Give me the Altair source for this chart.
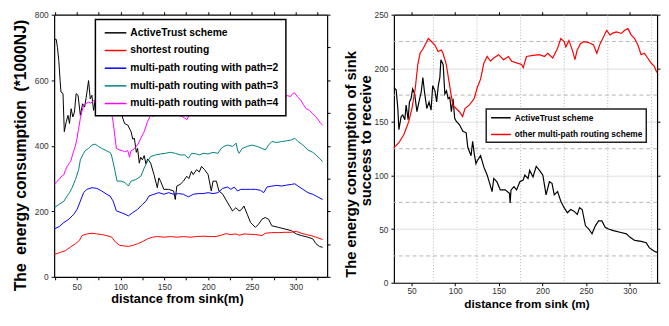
import altair as alt
import pandas as pd

# ---------------- Left panel data (energy consumption, *1000NJ) ----------------
LEFT_NAMES = ["ActiveTrust scheme", "shortest routing", "multi-path routing with path=2",
              "multi-path routing with path=3", "multi-path routing with path=4"]
LEFT_COLORS = ["#000000", "#ff0000", "#0000ff", "#008080", "#ff00ff"]

lbk_x = [25, 26.5, 28, 29.5, 31, 32, 34.3, 35.8, 38, 40, 41.7, 43.6, 45.5, 47.4, 49.3, 51.5, 54.1, 56.7, 59, 60.8,
         63.5, 65.4, 67.3, 69.2, 71, 73.2, 76, 80, 85, 90, 94, 97, 100.8, 104.6, 108.3, 112, 114, 115.8, 118, 119.5,
         121.4, 123, 125, 127, 129, 131, 134.4, 138.2, 142, 143.8, 145.7, 149.4, 155, 160.6, 162.5, 164.3, 168, 171.8, 175.6, 178,
         181, 183, 186.8, 190, 192.4, 196, 200, 203.6, 205.6, 209.4, 212.4, 216.7, 222.3, 227.9, 231.7, 235.4, 238, 240.9, 244.7, 248.4,
         254, 257.7, 261.5, 265.2, 269, 272.7, 280.2, 287.7, 295.1, 300.8, 306.4, 313.9, 319.5, 323.2, 327, 330.7]
lbk_y = [725, 725, 700, 660, 600, 564, 559, 443, 473, 493, 468, 513, 488, 503, 559, 554, 493, 528, 518, 548,
         599, 543, 554, 508, 538, 503, 530, 550, 540, 560, 540, 513, 498, 468, 463, 443, 420, 423, 380, 392,
         347, 365, 357, 370, 345, 360, 347, 312, 272, 302, 292, 267, 267, 262, 236, 277, 282, 292, 307, 300,
         322, 312, 327, 320, 337, 327, 312, 262, 292, 292, 262, 252, 226, 201, 211, 201, 205, 216, 191, 166,
         151, 161, 176, 181, 176, 156, 151, 146, 141, 131, 126, 121, 116, 101, 93, 90]

lrd_x = [24.2, 31.6, 37.2, 42.8, 48.5, 53, 56, 61.6, 67.3, 72.9, 78.5, 84.2, 89.8, 94.3, 99.2, 104.8, 109.3, 114.1, 119.7, 125.3,
         130.9, 136.5, 142.1, 149.5, 157, 164.5, 171.9, 179.4, 186.9, 194.3, 201.8, 209.3, 214.9, 220.5, 226.1, 231.7, 235.4, 241, 246.6, 254.1,
         261.5, 265.3, 272.7, 280.2, 287.7, 295.1, 300.7, 306.4, 312, 317.6, 323.2, 330.7]
lrd_y = [68, 75, 80, 91, 101, 111, 126, 131, 133, 131, 129, 126, 121, 106, 96, 94, 93, 96, 101, 108,
         116, 121, 123, 121, 123, 121, 123, 121, 123, 124, 123, 123, 127, 132, 129, 131, 127, 131, 130, 129,
         126, 133, 135, 135, 136, 136, 139, 133, 129, 126, 121, 114]

lbl_x = [24.2, 29.8, 35.4, 41, 46.6, 50.4, 54.1, 57.8, 61.6, 67.3, 72.9, 78.5, 84.2, 87.9, 91.6, 95.3, 100.8, 105.3, 109, 113.9,
         119.5, 125, 129, 132.6, 138.2, 143.8, 149.4, 155, 160.6, 166.2, 171.8, 177.5, 183, 188.7, 194.3, 200, 205.6, 211.2, 216.7, 222.3,
         226, 229.8, 233.6, 237.3, 242.9, 248.5, 254.1, 259.7, 263.5, 267.2, 272.8, 278.4, 284, 289.6, 295.2, 299, 302.7, 308.3, 314, 319.5,
         325.1, 330.7]
lbl_y = [146, 153, 166, 176, 191, 206, 231, 257, 267, 272, 270, 262, 252, 247, 231, 201, 196, 191, 186, 196,
         206, 221, 231, 247, 252, 257, 252, 257, 252, 254, 252, 244, 252, 254, 254, 257, 254, 257, 270, 274,
         267, 274, 262, 267, 267, 267, 267, 264, 257, 274, 277, 279, 277, 280, 282, 284, 277, 267, 257, 252,
         244, 236]

ltl_x = [24.5, 29.8, 35.4, 39.1, 42, 44.7, 48.5, 52.2, 54.1, 57.8, 59.7, 63.5, 67.3, 71, 74.8, 78.5, 82.3, 86, 88, 89.6,
         91.5, 93.4, 96, 100.8, 105.3, 109, 112, 117.6, 123.2, 127, 130.7, 134.4, 140, 145.7, 151.3, 156.9, 162.5, 168, 173.7, 177.5,
         181.2, 186.8, 190, 194.3, 200, 205.6, 211.2, 215, 218, 222, 228, 232, 233.6, 235.4, 239, 244.7, 250.4, 256, 261.5, 265.2,
         269, 272.7, 278.3, 284, 289.6, 295.2, 299, 302.7, 308.3, 314, 319.5, 323.2, 327, 330.7]
ltl_y = [211, 221, 231, 247, 258, 272, 297, 327, 357, 377, 385, 392, 402, 405, 398, 392, 387, 382, 380, 372,
         350, 327, 292, 292, 287, 277, 292, 297, 307, 332, 352, 367, 372, 375, 377, 380, 377, 372, 372, 362,
         377, 375, 372, 377, 375, 380, 377, 392, 398, 402, 398, 408, 387, 377, 392, 398, 402, 398, 392, 387,
         402, 413, 410, 413, 415, 418, 423, 413, 402, 387, 380, 372, 362, 352]

lmg_x = [24.5, 27, 29.8, 32, 35.4, 37, 39.1, 41, 43, 45, 46.6, 48.5, 50.4, 52, 54.1, 56, 57.8, 60, 63.5, 66,
         69.2, 72, 76, 80, 84, 88, 90, 91.5, 93.5, 95.2, 99, 102, 104.6, 108.3, 110.2, 112, 114, 117.6, 120, 123.2,
         127, 130.7, 134.4, 137, 140, 143, 145.7, 148, 151, 155, 158, 160.6, 163, 166, 170, 173, 176, 179, 182, 184.8,
         187, 190.5, 193, 196, 199, 201.7, 204, 207, 211, 214.8, 220, 225, 230, 232, 235, 240, 245, 250, 255, 259,
         263, 267, 272, 276, 280, 285.4, 291, 294, 296.6, 298.5, 302, 306, 309, 312, 315.7, 319.5, 323.2, 326, 328.8, 330.7]
lmg_y = [282, 290, 297, 305, 312, 325, 337, 345, 352, 370, 385, 400, 423, 450, 483, 505, 523, 528, 533, 530,
         538, 540, 530, 515, 510, 505, 495, 473, 430, 392, 387, 385, 382, 385, 365, 385, 387, 397, 405, 423,
         443, 473, 493, 490, 493, 495, 498, 495, 503, 508, 500, 498, 500, 493, 490, 485, 480, 498, 495, 498,
         495, 503, 500, 498, 505, 500, 505, 498, 508, 523, 530, 528, 520, 503, 505, 525, 530, 525, 530, 510,
         505, 530, 535, 540, 543, 548, 553, 550, 559, 562, 550, 538, 525, 513, 508, 498, 488, 478, 468, 463]

# ---------------- Right panel data ----------------
RIGHT_NAMES = ["ActiveTrust scheme", "other multi-path routing scheme"]
RIGHT_COLORS = ["#000000", "#ff0000"]

rbk_x = [29.7, 32.3, 34.2, 35.4, 38, 39.9, 42.2, 43.7, 46, 47.5, 49.3, 51.2, 53.5, 56.1, 58.8, 61, 62.9, 64.8, 67.4, 70,
         72.3, 74.2, 76.8, 78.7, 80.6, 82.4, 83.6, 86.2, 88.1, 90, 91.9, 93.8, 95.6, 97.5, 99.4, 101.3, 105, 108.8, 112.6, 114.4,
         118.2, 120, 121.9, 123.8, 125.4, 129.1, 132.9, 136.7, 142.3, 144.2, 147.9, 151.7, 157.3, 162.2, 163, 164, 167.4, 170.4, 174.1, 177.9,
         179.8, 183.5, 185.4, 189.2, 192.9, 196.7, 200.5, 204.2, 208, 211, 213.6, 217.4, 221.1, 224.9, 228.7, 232.4, 236.2, 240, 242.6, 245.6,
         249.4, 253.2, 256.9, 260.7, 264.4, 268.2, 272, 275.7, 281.4, 288.9, 296.4, 300.2, 305.8, 313.3, 319, 322.7, 328.4, 331.4]
rbk_y = [182, 180, 162.5, 142.8, 155, 156.5, 152, 165.6, 152, 168.6, 171.6, 180.7, 176, 159.5, 170, 177.7, 191.4, 177.7, 162.5, 168.6,
         161, 183.8, 179, 168.6, 183.8, 191.4, 208, 203.5, 176, 179, 171.6, 173, 159.5, 171.6, 153.4, 150.4, 147.3, 141.3, 139.8, 126.3,
         118.5, 132, 120, 111, 114, 118.5, 107.8, 100.3, 85, 97.2, 94, 86.6, 86.6, 83.5, 74.4, 86.6, 89.6, 86.6, 94.2, 95.7,
         100.3, 97.2, 104.8, 98.7, 108.5, 104.8, 100.3, 82, 94.2, 92.7, 82, 85, 76, 70, 65.3, 68.3, 66.8, 63.8, 70, 68.3,
         53.1, 50.1, 45.6, 53.1, 57.7, 57.7, 51.7, 50.1, 48.6, 47.1, 45.6, 42.6, 39.5, 38.6, 37.4, 32.5, 29.4, 28.3]

rrd_x = [29.7, 35.4, 41, 46.6, 50.4, 54.1, 57.1, 59.7, 63.5, 67.2, 69.1, 72.9, 76.7, 80.4, 84.2, 86, 89.8, 93.6, 97.3, 101,
         104.8, 108.5, 111.2, 116, 121.7, 125.4, 129.1, 132.9, 136.7, 140.4, 144.2, 149.8, 155.4, 161, 164.8, 170.4, 176.1, 178, 181.7, 189.2,
         196.7, 202.4, 206.1, 211.8, 217.4, 221.1, 224.9, 226.8, 230.5, 234.3, 237.3, 239.9, 243.7, 247.4, 253, 258.6, 262.4, 266.2, 269.9, 273.7,
         277.5, 281.2, 285, 290.6, 294.4, 298.1, 301.9, 305.6, 309.4, 313.2, 316.9, 320.7, 324.5, 328.2, 331.2]
rrd_y = [126, 130.6, 138, 150, 162.5, 180.7, 203.5, 214, 218.7, 224.8, 227.8, 225, 221.7, 215.7, 217, 214, 203.5, 183.8, 165.6, 162.5,
         159.5, 155, 162.5, 165.6, 171.6, 182.3, 189.9, 205, 211, 206.6, 209.6, 212.7, 208, 211, 206.6, 205, 203.5, 200.5, 211, 212,
         212.7, 211, 214, 209.6, 218.7, 227.8, 224.8, 220, 226, 217, 208, 217, 223, 224.8, 224, 221.7, 214, 223, 229, 235.4,
         231, 233, 234, 232.5, 235.4, 237, 231, 228, 222, 212.7, 214, 209.6, 205, 202, 196]

# ---------------- Ticks, grid, titles ----------------
L_XTICKS = [25, 50, 75, 100, 125, 150, 175, 200, 225, 250, 275, 300, 325]
L_YTICKS = [0, 200, 400, 600, 800]
L_YTICKS_R = [0, 100, 200, 300, 400, 500, 600, 700, 800]
R_XTICKS = [50, 100, 150, 200, 250, 300]
R_YTICKS = [0, 50, 100, 150, 200, 250]
R_GRID_X = [75, 125, 175, 225, 275, 325]
R_GRID_Y = [25, 75, 125, 175, 225]

L_XTITLE = "distance from sink(m)"
L_YTITLE = "The\u00a0 energy consumption\u00a0 (*1000NJ)"
R_XTITLE = "distance from sink (m)"
R_YTITLE1 = "The energy consumption of sink"
R_YTITLE2 = "success to receive"

FONT = "Liberation Sans, Arial, sans-serif"


def frame(xs, ys, name):
    return pd.DataFrame({"x": xs, "y": ys, "s": name})


left_df = pd.concat([frame(lbk_x, lbk_y, LEFT_NAMES[0]), frame(lrd_x, lrd_y, LEFT_NAMES[1]),
                     frame(lbl_x, lbl_y, LEFT_NAMES[2]), frame(ltl_x, ltl_y, LEFT_NAMES[3]),
                     frame(lmg_x, lmg_y, LEFT_NAMES[4])], ignore_index=True)
right_df = pd.concat([frame(rbk_x, rbk_y, RIGHT_NAMES[0]), frame(rrd_x, rrd_y, RIGHT_NAMES[1])],
                     ignore_index=True)
vgrid_df = pd.DataFrame({"gx": R_GRID_X})
hgrid_df = pd.DataFrame({"gy": R_GRID_Y})

AX = dict(domainColor="black", domainWidth=1.2, tickColor="black", tickWidth=1, tickSize=3,
          labelFont=FONT, labelFontSize=8.5, labelColor="#333333", grid=False)
LABEL50 = "datum.value % 50 == 0 ? datum.label : ''"

# ---------------- Left chart ----------------
xl = alt.Scale(domain=[24.2, 335.9], nice=False, zero=False)
yl = alt.Scale(domain=[0, 800], nice=False)

left_lines = alt.Chart(left_df).mark_line(strokeWidth=1).encode(
    x=alt.X("x:Q", scale=xl, axis=alt.Axis(orient="bottom", values=L_XTICKS, labelExpr=LABEL50, labelPadding=3,
                                           title=L_XTITLE, titleFont=FONT, titleFontSize=13, titleFontWeight="bold",
                                           titleColor="black", titleX=125, titleY=22.5, titleBaseline="middle", **AX)),
    y=alt.Y("y:Q", scale=yl, axis=alt.Axis(orient="left", values=L_YTICKS, labelPadding=3,
                                           title=L_YTITLE, titleFont=FONT, titleFontSize=16, titleFontWeight="bold",
                                           titleColor="black", titleX=-34, titleY=143, titleBaseline="middle", **AX)),
    color=alt.Color("s:N", sort=LEFT_NAMES, scale=alt.Scale(domain=LEFT_NAMES, range=LEFT_COLORS),
                    legend=alt.Legend(orient="none", legendX=42, legendY=5, title=None,
                                      fillColor="white", strokeColor="black", padding=7, rowPadding=6,
                                      symbolType="M-2,0L2,0", symbolSize=121, symbolStrokeWidth=1.5,
                                      symbolOffset=7, labelOffset=8.5, labelFont=FONT, labelFontSize=10.5,
                                      labelFontWeight="bold", labelColor="black", labelLimit=400)),
)
left_mirror = alt.Chart(left_df).mark_point(opacity=0, size=1).encode(
    x=alt.X("x:Q", scale=xl, axis=alt.Axis(orient="top", values=L_XTICKS, labels=False, title=None, **AX)),
    y=alt.Y("y:Q", scale=yl, axis=alt.Axis(orient="right", values=L_YTICKS_R, labels=False, title=None, **AX)),
)
left = alt.layer(left_lines, left_mirror).resolve_axis(x="independent", y="independent").properties(
    width=278, height=267)

# ---------------- Right chart ----------------
xr = alt.Scale(domain=[29.7, 331.5], nice=False, zero=False)
yr = alt.Scale(domain=[0, 250], nice=False)

right_vgrid = alt.Chart(vgrid_df).mark_rule(color="#b4b4b4", strokeDash=[1, 2], strokeWidth=1).encode(
    x=alt.X("gx:Q", scale=xr, axis=alt.Axis(orient="top", values=R_XTICKS, labels=False, title=None, **AX)),
)
right_hgrid = alt.Chart(hgrid_df).mark_rule(color="#b4b4b4", strokeDash=[4, 3], strokeWidth=1).encode(
    y=alt.Y("gy:Q", scale=yr, axis=alt.Axis(orient="left", labels=False, ticks=False, domain=False,
                                             title=R_YTITLE2, titleFont=FONT, titleFontSize=15,
                                             titleFontWeight="bold", titleColor="black", titleX=-29, titleY=128,
                                             titleBaseline="middle")),
)
right_lines = alt.Chart(right_df).mark_line(strokeWidth=1.2).encode(
    x=alt.X("x:Q", scale=xr, axis=alt.Axis(orient="bottom", values=R_XTICKS, labelPadding=1,
                                           title=R_XTITLE, titleFont=FONT, titleFontSize=12, titleFontWeight="bold",
                                           titleColor="black", titleX=135, titleY=21, titleBaseline="middle", **AX)),
    y=alt.Y("y:Q", scale=yr, axis=alt.Axis(orient="left", values=R_YTICKS, labelPadding=3,
                                           title=R_YTITLE1, titleFont=FONT, titleFontSize=15, titleFontWeight="bold",
                                           titleColor="black", titleX=-44, titleY=152, titleBaseline="middle", **AX)),
    color=alt.Color("s:N", sort=RIGHT_NAMES, scale=alt.Scale(domain=RIGHT_NAMES, range=RIGHT_COLORS),
                    legend=alt.Legend(orient="none", legendX=94, legendY=96, title=None,
                                      fillColor="white", strokeColor="#222222", padding=3, rowPadding=6,
                                      symbolType="M-2,0L2,0", symbolSize=100, symbolStrokeWidth=1.5,
                                      symbolOffset=6, labelOffset=8, labelFont=FONT, labelFontSize=8.5,
                                      labelFontWeight="bold", labelColor="black", labelLimit=400)),
)
right_mirror = alt.Chart(right_df).mark_point(opacity=0, size=1).encode(
    x=alt.X("x:Q", scale=xr, axis=None),
    y=alt.Y("y:Q", scale=yr, axis=alt.Axis(orient="right", values=R_YTICKS, labels=False, title=None, **AX)),
)
right = alt.layer(right_vgrid, right_hgrid, right_lines, right_mirror).resolve_axis(
    x="independent", y="independent").properties(width=268, height=273)

chart = alt.hconcat(left, right, spacing=13).resolve_scale(color="independent").resolve_legend(
    color="independent").properties(
    padding={"left": 5, "top": 0, "right": 0, "bottom": 0}
).configure_view(strokeWidth=0).configure_legend(strokeWidth=1.5)

chart.save("out.html", embed_options={"renderer": "svg", "actions": False})
